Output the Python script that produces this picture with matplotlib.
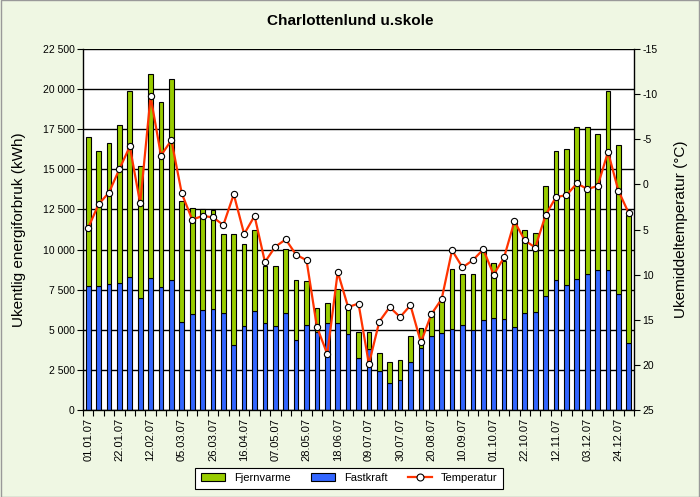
import numpy as np
import matplotlib
matplotlib.use("Agg")
import matplotlib.pyplot as plt
from matplotlib.ticker import FuncFormatter
from matplotlib.patches import Rectangle

plt.rcParams['font.family'] = ['Liberation Sans', 'DejaVu Sans']
plt.rcParams['axes.unicode_minus'] = False

# ------------------------------------------------------------
# Data (53 uker i 2007)
# ------------------------------------------------------------
uke_start = ['01.01.07', '22.01.07', '12.02.07', '05.03.07', '26.03.07', '16.04.07',
             '07.05.07', '28.05.07', '18.06.07', '09.07.07', '30.07.07', '20.08.07',
             '10.09.07', '01.10.07', '22.10.07', '12.11.07', '03.12.07', '24.12.07']

fastkraft = [7710, 7710, 7835, 7895, 8270, 6960, 8210, 7650, 8085, 5465,
             5965, 6215, 6275, 6025, 4030, 5215, 6170, 5400, 5215, 6035,
             4355, 5280, 4850, 5410, 5410, 4720, 3230, 3800, 2410, 1660,
             1850, 2975, 3845, 4590, 4780, 5030, 5280, 4965, 5590, 5715,
             5655, 5155, 6025, 6090, 7085, 8085, 7770, 8145, 8460, 8710,
             8710, 7210, 4155]

totalt = [17000, 16125, 16620, 17745, 19865, 15190, 20940, 19200, 20610, 13010,
          12570, 12510, 12465, 10950, 10950, 10330, 11200, 8995, 8960, 10015,
          8085, 8020, 6340, 6660, 7520, 6475, 4850, 4860, 3530, 2975,
          3095, 4590, 5090, 6150, 6775, 8770, 8460, 8460, 9955, 9145,
          9270, 11650, 11200, 11050, 13960, 16125, 16250, 17620, 17620, 17185,
          19865, 16500, 12135]

fjernvarme = [t - f for t, f in zip(totalt, fastkraft)]

temperatur = [4.8, 2.2, 0.9, -1.7, -4.2, 2.1, -9.75, -3.2, -4.9, 1.0,
              3.9, 3.5, 3.65, 4.5, 1.1, 5.5, 3.5, 8.6, 6.9, 6.1,
              7.8, 8.4, 15.8, 18.8, 9.7, 13.6, 13.2, 19.9, 15.2, 13.6,
              14.7, 13.4, 17.5, 14.4, 12.7, 7.3, 9.2, 8.4, 7.2, 10.0,
              8.1, 4.1, 6.2, 7.0, 3.4, 1.4, 1.2, -0.1, 0.5, 0.2,
              -3.6, 0.7, 3.2]

GRONN = '#99CC00'
BLA = '#3366FF'
ROD = '#FF3300'
BAKGRUNN = '#EFF7E3'

# ------------------------------------------------------------
# Figur
# ------------------------------------------------------------
fig = plt.figure(figsize=(7.0, 4.97), dpi=100, facecolor=BAKGRUNN)
ax = fig.add_axes([0.1186, 0.175, 0.7871, 0.7264])
ax.set_facecolor('white')

x = np.arange(len(fastkraft))
ax.bar(x, fastkraft, width=0.45, color=BLA, edgecolor='black', linewidth=0.8, zorder=2)
ax.bar(x, fjernvarme, bottom=fastkraft, width=0.45, color=GRONN, edgecolor='black',
       linewidth=0.8, zorder=2)

ax.set_xlim(-0.5, len(x) - 0.5)
ax.set_ylim(0, 22500)
ax.set_yticks(np.arange(0, 22501, 2500))
ax.yaxis.set_major_formatter(FuncFormatter(lambda v, p: f'{int(v):,}'.replace(',', ' ')))
ax.grid(axis='y', color='black', linewidth=1.0)
ax.set_axisbelow(True)

# tick-merker mellom hver uke, etiketter hver tredje uke
ax.set_xticks(np.arange(-0.5, len(x), 1))
ax.set_xticklabels([])
ax.set_xticks(np.arange(0, len(x), 3), minor=True)
ax.set_xticklabels(uke_start, minor=True, rotation=90, fontsize=8)
ax.tick_params(axis='x', which='major', direction='out', length=4, width=0.8)
ax.tick_params(axis='x', which='minor', length=0, pad=6)
ax.tick_params(axis='y', direction='out', length=4, width=0.8, labelsize=7.5, pad=2)

for s in ax.spines.values():
    s.set_linewidth(1.0)
ax.spines['top'].set_visible(False)
ax.spines['right'].set_visible(False)

ax.set_ylabel('Ukentlig energiforbruk (kWh)', fontsize=11, labelpad=12)

# temperatur på sekundærakse (invertert)
ax2 = ax.twinx()
ax2.plot(x, temperatur, color=ROD, linewidth=1.6, marker='o', markersize=4.5,
         markerfacecolor='white', markeredgecolor='black', markeredgewidth=0.8, zorder=3)
ax2.set_ylim(25, -15)
ax2.set_yticks(np.arange(-15, 26, 5))
ax2.tick_params(axis='y', direction='out', length=4, width=0.8, labelsize=7.5, pad=2)
ax2.spines['top'].set_visible(False)
ax2.spines['left'].set_visible(False)
ax2.spines['bottom'].set_visible(False)
ax2.spines['right'].set_linewidth(1.0)
ax2.set_ylabel('Ukemiddeltemperatur (°C)', fontsize=11, labelpad=12)

fig.text(0.5, 0.958, 'Charlottenlund u.skole', ha='center', va='center',
         fontsize=11, fontweight='bold')

# legend
handles = [Rectangle((0, 0), 1, 1, facecolor=GRONN, edgecolor='black', linewidth=0.8),
           Rectangle((0, 0), 1, 1, facecolor=BLA, edgecolor='black', linewidth=0.8),
           plt.Line2D([], [], color=ROD, linewidth=1.6, marker='o', markersize=5,
                      markerfacecolor='white', markeredgecolor='black', markeredgewidth=0.8)]
leg = fig.legend(handles, ['Fjernvarme', 'Fastkraft', 'Temperatur'], ncol=3,
                 loc='center', bbox_to_anchor=(0.499, 0.038), fontsize=8,
                 frameon=True, fancybox=False, edgecolor='black', framealpha=1,
                 handlelength=2.2, handleheight=0.7, columnspacing=1.8,
                 borderpad=0.5)
leg.get_frame().set_linewidth(0.8)

# ramme rundt figuren
fig.patches.append(Rectangle((0.001, 0.001), 0.998, 0.998, transform=fig.transFigure,
                             fill=False, edgecolor='#999999', linewidth=1))

fig.savefig('out.png', dpi=100, facecolor=BAKGRUNN)
